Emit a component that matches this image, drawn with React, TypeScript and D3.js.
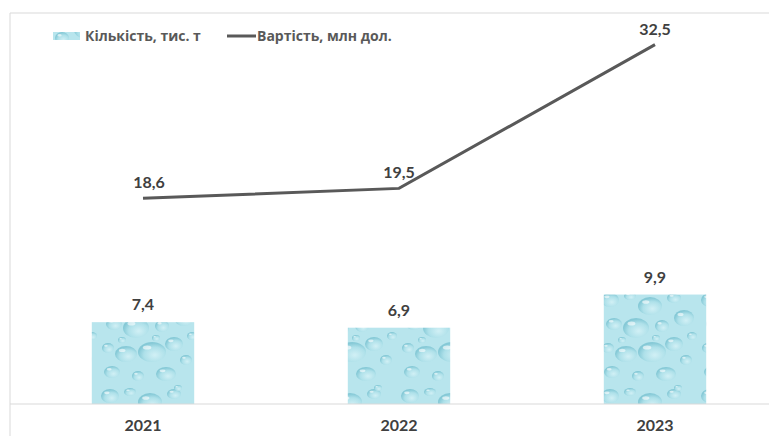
import React from 'react';
import * as d3 from 'd3';

const years = ['2021', '2022', '2023'];
const quantity = [7.4, 6.9, 9.9];
const value = [18.6, 19.5, 32.5];
const seriesNames = ['Кількість, тис. т', 'Вартість, млн дол.'];

// water drop texture (decoration only)
const drops = [
  [10, 12, 9, 7], [30, 8, 6, 4], [50, 18, 12, 9], [74, 10, 7, 5], [84, 30, 10, 8],
  [14, 36, 8, 6], [36, 40, 13, 10], [62, 38, 7, 6], [74, 56, 9, 7], [8, 60, 6, 5],
  [26, 66, 11, 8], [52, 64, 14, 10], [86, 72, 6, 5], [12, 84, 8, 6], [38, 88, 6, 5],
  [66, 86, 10, 7], [92, 48, 5, 4], [56, 50, 4, 3], [22, 52, 4, 3], [78, 4, 4, 3],
];

export default function App() {
  const W = 769;
  const H = 436;
  const x = d3.scaleBand().domain(years).range([15, 783]);
  const y = d3.scaleLinear().domain([0, 35]).range([404, 17]);
  const barW = x.bandwidth() * 0.4;
  const cx = (d: string) => (x(d) as number) + x.bandwidth() / 2;
  const line = d3
    .line<number>()
    .x((_, i) => cx(years[i]))
    .y((d) => y(d));
  const font = '"Open Sans", sans-serif';
  const numFont = 'Lato, "Open Sans", sans-serif';

  return (
    <svg width={W} height={H} style={{ position: 'absolute', left: 0, top: 0 }}>
      <defs>
        <radialGradient id="drop" cx="0.6" cy="0.65" r="0.6">
          <stop offset="0" stopColor="#d4f1f6" />
          <stop offset="0.65" stopColor="#ade0e9" />
          <stop offset="1" stopColor="#80c6d4" />
        </radialGradient>
        <pattern id="water" width={100} height={96} patternUnits="userSpaceOnUse">
          <rect width={100} height={96} fill="#b8e5ed" />
          {drops.map(([px, py, rx, ry], i) => (
            <g key={i}>
              <ellipse cx={px} cy={py} rx={rx} ry={ry} fill="url(#drop)" opacity={0.9} />
              <ellipse cx={px - rx * 0.35} cy={py - ry * 0.45} rx={rx * 0.3} ry={ry * 0.2} fill="#ffffff" opacity={0.6} />
            </g>
          ))}
        </pattern>
      </defs>
      <rect width={W} height={H} fill="#ffffff" />
      {/* chart border */}
      <line x1={10} x2={W} y1={13} y2={13} stroke="#d9d9d9" />
      <line x1={10} x2={10} y1={13} y2={H} stroke="#d9d9d9" />

      {/* legend */}
      <rect x={53} y={32} width={27} height={8} fill="url(#water)" />
      <text x={85} y={41} fontFamily={font} fontWeight={700} fontSize={14} fill="#595959">
        {seriesNames[0]}
      </text>
      <line x1={227} x2={256} y1={36} y2={36} stroke="#595959" strokeWidth={3} />
      <text x={257} y={41} fontFamily={font} fontWeight={700} fontSize={14} fill="#595959">
        {seriesNames[1]}
      </text>

      {/* bars */}
      {years.map((yr, i) => (
        <g key={yr}>
          <rect
            x={cx(yr) - barW / 2}
            y={y(quantity[i])}
            width={barW}
            height={y(0) - y(quantity[i])}
            fill="url(#water)"
          />
          <text
            x={cx(yr)}
            y={y(quantity[i]) - 12}
            textAnchor="middle"
            fontFamily={numFont}
            fontWeight={700}
            fontSize={16}
            fill="#404040"
          >
            {String(quantity[i]).replace('.', ',')}
          </text>
        </g>
      ))}

      {/* axis */}
      <line x1={10} x2={W} y1={y(0)} y2={y(0)} stroke="#d9d9d9" />
      {years.map((yr) => (
        <text
          key={yr}
          x={cx(yr)}
          y={431}
          textAnchor="middle"
          fontFamily={numFont}
          fontWeight={700}
          fontSize={16}
          fill="#404040"
        >
          {yr}
        </text>
      ))}

      {/* line */}
      <path d={line(value) || ''} fill="none" stroke="#595959" strokeWidth={3} />
      {value.map((v, i) => (
        <text
          key={i}
          x={cx(years[i]) + (i === 0 ? 6 : 0)}
          y={y(v) - 10}
          textAnchor="middle"
          fontFamily={numFont}
          fontWeight={700}
          fontSize={16}
          fill="#404040"
        >
          {String(v).replace('.', ',')}
        </text>
      ))}
    </svg>
  );
}
